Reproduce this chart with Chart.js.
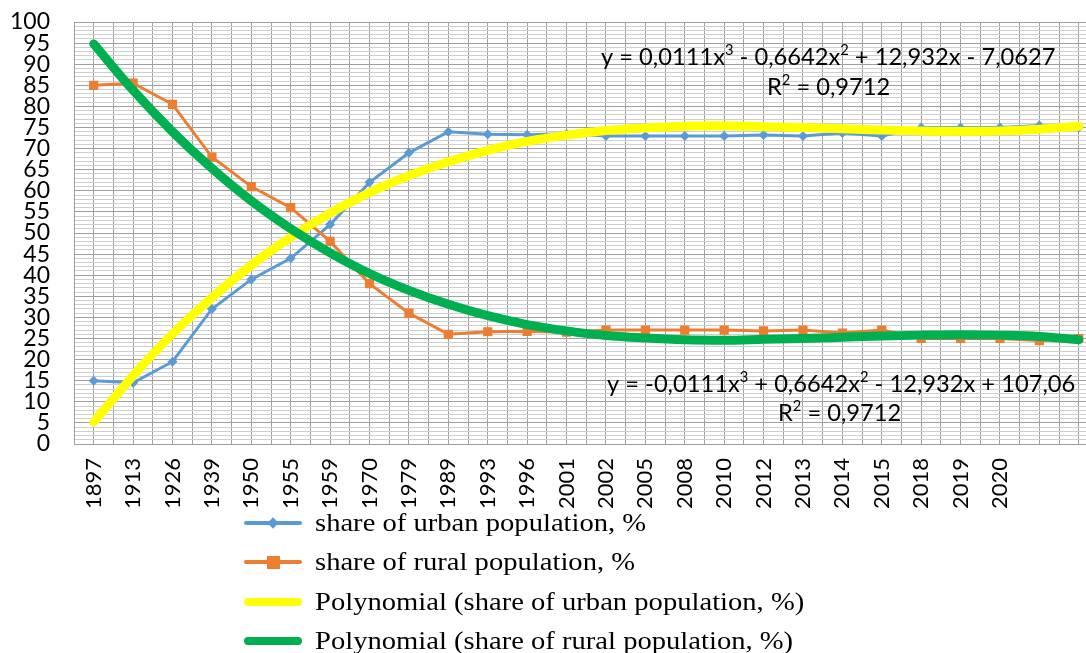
<!DOCTYPE html>
<html>
<head>
<meta charset="utf-8">
<script src="https://cdn.jsdelivr.net/npm/chart.js@4.4.1/dist/chart.umd.min.js"></script>
<style>
  html, body { margin: 0; padding: 0; background: #fff; overflow: hidden; width: 1086px; height: 653px; }
  #wrap { position: relative; width: 1105px; height: 518px; }
  #legend { position: absolute; left: 244px; top: 503px; font-family: "Liberation Serif", "Times New Roman", serif; font-size: 26px; color: #000; }
  .item { height: 39.5px; display: flex; align-items: center; white-space: nowrap; }
  .item span { display: inline-block; transform: scaleX(1.1); transform-origin: left center; }
  .swatch { position: relative; width: 58px; height: 20px; margin-right: 13px; }
  .swatch .ln { position: absolute; left: 0; right: 0; top: 50%; border-radius: 6px; }
  .swatch .mk { position: absolute; left: 50%; top: 50%; }
</style>
</head>
<body>
<div id="wrap"><canvas id="chart" width="1105" height="518"></canvas></div>
<div id="legend"></div>
<script>
// --- Data ---
const years = ["1897", "1913", "1926", "1939", "1950", "1955", "1959", "1970", "1979", "1989",
  "1993", "1996", "2001", "2002", "2005", "2008", "2010", "2012", "2013", "2014",
  "2015", "2018", "2019", "2020", "", ""];

const urbanShare = [15, 14.5, 19.5, 32, 39, 44, 52, 62, 69, 74,
  73.4, 73.3, 73.5, 73, 73, 73, 73, 73.2, 73, 73.7,
  73, 75, 75, 75, 75.5, 75];

const ruralShare = [85, 85.5, 80.5, 68, 61, 56, 48, 38, 31, 26,
  26.6, 26.7, 26.5, 27, 27, 27, 27, 26.8, 27, 26.3,
  27, 25, 25, 25, 24.5, 25];

// polynomial trend lines
const urbanTrend = [5.2, 16.2, 26.1, 34.7, 42.4, 49.0, 54.7, 59.6, 63.6, 66.9,
  69.6, 71.7, 73.2, 74.3, 74.9, 75.3, 75.4, 75.2, 75.0, 74.7,
  74.4, 74.2, 74.1, 74.2, 74.6, 75.3];

const ruralTrend = [94.8, 83.8, 74.0, 65.3, 57.6, 51.0, 45.3, 40.4, 36.4, 33.1,
  30.4, 28.3, 26.8, 25.7, 25.1, 24.7, 24.6, 24.8, 25.0, 25.3,
  25.6, 25.8, 25.9, 25.8, 25.5, 24.7];

const seriesNames = [
  "share of urban population, %",
  "share of rural population, %",
  "Polynomial (share of urban population, %)",
  "Polynomial (share of rural population, %)"
];

const yTicks = [0, 5, 10, 15, 20, 25, 30, 35, 40, 45, 50, 55, 60, 65, 70, 75, 80, 85, 90, 95, 100];

// --- Colors ---
const blue = "#5B9BD5";
const orange = "#ED7D31";
const yellow = "#FFFF00";
const green = "#00B050";
const gridDark = "#a0a0a0";
const gridLight = "#cfcfcf";

// --- Trendline equations drawn on the canvas ---
const equationPlugin = {
  id: "equations",
  afterDatasetsDraw(chart) {
    const ctx = chart.ctx;
    const base = 23.7;
    const font = (s) => `${s}px Lato, "Open Sans", sans-serif`;

    function drawParts(parts, x, y) {
      ctx.save();
      ctx.fillStyle = "#000";
      ctx.textBaseline = "middle";
      ctx.textAlign = "left";
      for (const p of parts) {
        if (p.sup) {
          ctx.font = font(base * 0.62);
          ctx.fillText(p.t, x, y - base * 0.3);
        } else {
          ctx.font = font(base);
          ctx.fillText(p.t, x, y);
        }
        x += ctx.measureText(p.t).width;
      }
      ctx.restore();
    }

    drawParts([
      { t: "y = 0,0111x" }, { t: "3", sup: true }, { t: " - 0,6642x" }, { t: "2", sup: true },
      { t: " + 12,932x - 7,0627" }
    ], 601, 57);
    drawParts([{ t: "R" }, { t: "2", sup: true }, { t: " = 0,9712" }], 767, 87);

    drawParts([
      { t: "y = -0,0111x" }, { t: "3", sup: true }, { t: " + 0,6642x" }, { t: "2", sup: true },
      { t: " - 12,932x + 107,06" }
    ], 607, 384);
    drawParts([{ t: "R" }, { t: "2", sup: true }, { t: " = 0,9712" }], 778, 413);
  }
};

// remove the extra room Chart.js keeps for the outer tick labels
function noPadding(scale) {
  scale.paddingTop = 0;
  scale.paddingBottom = 0;
  scale.paddingLeft = 0;
  scale.paddingRight = 0;
}

const ctx = document.getElementById("chart").getContext("2d");

const chart = new Chart(ctx, {
  type: "line",
  data: {
    labels: years,
    datasets: [
      {
        label: seriesNames[0],
        data: urbanShare,
        borderColor: blue,
        backgroundColor: blue,
        borderWidth: 3,
        pointStyle: "rectRot",
        pointRadius: 5,
        pointBorderWidth: 0,
        order: 4
      },
      {
        label: seriesNames[1],
        data: ruralShare,
        borderColor: orange,
        backgroundColor: orange,
        borderWidth: 3,
        pointStyle: "rect",
        pointRadius: 6.5,
        pointBorderWidth: 0,
        order: 3
      },
      {
        label: seriesNames[2],
        data: urbanTrend,
        borderColor: yellow,
        backgroundColor: yellow,
        borderWidth: 9,
        borderCapStyle: "round",
        pointRadius: 0,
        cubicInterpolationMode: "monotone",
        order: 2
      },
      {
        label: seriesNames[3],
        data: ruralTrend,
        borderColor: green,
        backgroundColor: green,
        borderWidth: 9,
        borderCapStyle: "round",
        pointRadius: 0,
        cubicInterpolationMode: "monotone",
        order: 1
      }
    ]
  },
  options: {
    responsive: false,
    animation: false,
    layout: { padding: { top: 22, right: 5, left: 0, bottom: 0 } },
    plugins: {
      legend: { display: false },
      tooltip: { enabled: false }
    },
    scales: {
      x: {
        type: "category",
        offset: true,
        grid: { offset: false, color: gridDark, lineWidth: 1, drawTicks: false },
        border: { display: true, color: gridDark },
        ticks: {
          color: "#000",
          font: { family: "Lato", size: 22 },
          minRotation: 90,
          maxRotation: 90,
          autoSkip: false,
          padding: 14
        },
        afterFit(scale) { scale.height = 74; noPadding(scale); }
      },
      x2: {
        type: "category",
        labels: years,
        position: "bottom",
        offset: true,
        grid: { offset: true, color: gridDark, lineWidth: 1, drawTicks: false },
        border: { display: false },
        ticks: { display: false },
        afterFit(scale) { scale.height = 0; noPadding(scale); }
      },
      y: {
        min: 0,
        max: 100,
        grid: {
          drawTicks: false,
          color: (c) => (c.tick && c.tick.value % 5 === 0 ? gridDark : gridLight),
          lineWidth: 1
        },
        border: { display: true, color: gridDark },
        ticks: {
          stepSize: 1,
          maxTicksLimit: 101,
          autoSkip: false,
          color: "#000",
          font: { family: "Lato", size: 23 },
          padding: 24,
          callback: (v) => (yTicks.includes(v) ? String(v) : "")
        },
        afterFit(scale) { scale.width = 74; noPadding(scale); }
      }
    }
  },
  plugins: [equationPlugin]
});

// --- HTML legend, one entry per row ---
const legendEl = document.getElementById("legend");
const styles = [
  { color: blue, width: 4, marker: "diamond" },
  { color: orange, width: 4, marker: "square" },
  { color: yellow, width: 8, marker: null },
  { color: green, width: 8, marker: null }
];
seriesNames.forEach((name, i) => {
  const s = styles[i];
  const item = document.createElement("div");
  item.className = "item";
  const sw = document.createElement("div");
  sw.className = "swatch";
  const ln = document.createElement("div");
  ln.className = "ln";
  ln.style.background = s.color;
  ln.style.height = s.width + "px";
  ln.style.marginTop = (-s.width / 2) + "px";
  sw.appendChild(ln);
  if (s.marker) {
    const mk = document.createElement("div");
    mk.className = "mk";
    mk.style.background = s.color;
    if (s.marker === "diamond") {
      mk.style.width = "8px"; mk.style.height = "8px";
      mk.style.margin = "-4px 0 0 -4px";
      mk.style.transform = "rotate(45deg)";
    } else {
      mk.style.width = "13px"; mk.style.height = "13px";
      mk.style.margin = "-6.5px 0 0 -6.5px";
    }
    sw.appendChild(mk);
  }
  const label = document.createElement("span");
  label.textContent = name;
  item.appendChild(sw);
  item.appendChild(label);
  legendEl.appendChild(item);
});
</script>
</body>
</html>
